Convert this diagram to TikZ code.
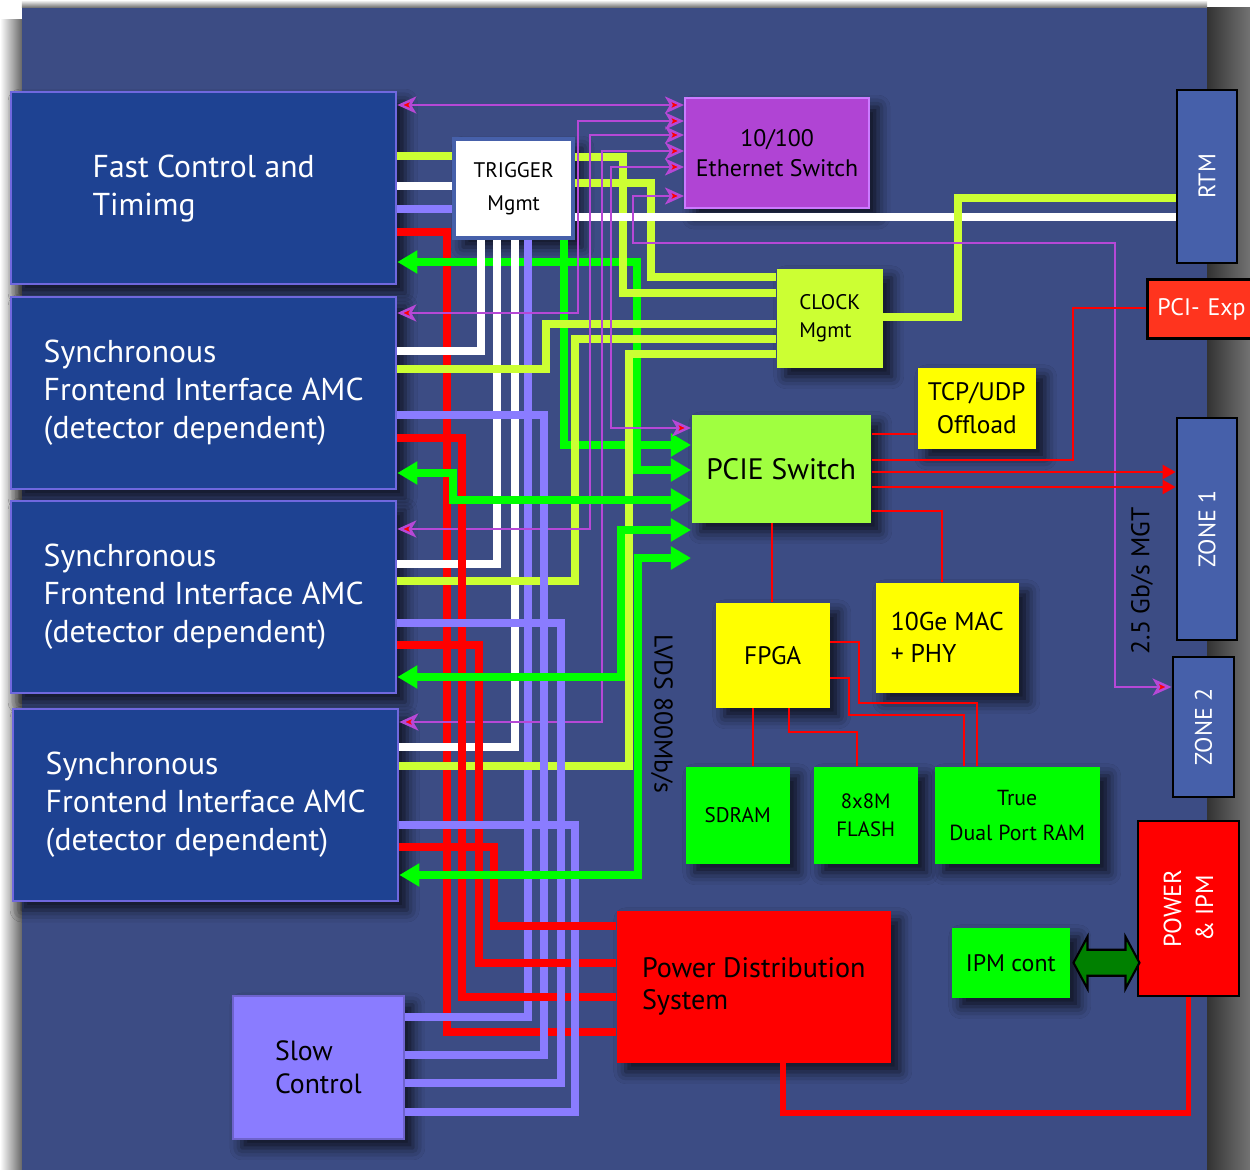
\documentclass[tikz,border=0pt]{standalone}
\usepackage{fontspec}
\setmainfont{PT Sans}
\usetikzlibrary{positioning, arrows.meta, shadows.blur, calc}
\definecolor{cboard}{RGB}{60,76,132}
\definecolor{camc}{RGB}{30,66,146}
\definecolor{camcb}{RGB}{112,104,222}
\definecolor{clav}{RGB}{138,124,255}
\definecolor{cylw}{RGB}{204,255,51}
\definecolor{cgrn}{RGB}{0,255,0}
\definecolor{cpcie}{RGB}{160,255,64}
\definecolor{cyel}{RGB}{255,255,0}
\definecolor{ceth}{RGB}{176,68,212}
\definecolor{cethb}{RGB}{204,122,255}
\definecolor{cmag}{RGB}{182,72,214}
\definecolor{cred}{RGB}{255,0,0}
\definecolor{crtm}{RGB}{70,96,170}
\definecolor{cpex}{RGB}{255,52,30}
\definecolor{cdkg}{RGB}{0,128,0}
\newcommand{\fsz}[2]{\fontsize{#1}{#2}\selectfont}

\begin{document}
\begin{tikzpicture}[x=0.01cm, y=-0.01cm, line join=miter,
    gtip/.tip={Triangle[length=0.2cm, width=0.22cm]},
    mtip/.tip={Stealth[length=0.19cm, width=0.17cm, inset=0.05cm, fill=red, line width=0.7pt]},
    rtip/.tip={Triangle[length=0.13cm, width=0.14cm]},
    shd/.style={blur shadow={shadow xshift=0.09cm, shadow yshift=-0.09cm, shadow blur radius=0.12cm, shadow opacity=75}},
    blk/.style={anchor=north west, inner sep=0pt, align=center, text=black, shd},
    amc/.style={blk, fill=camc, draw=camcb, line width=0.6pt, text=white, align=left,
        minimum width=3.85cm, minimum height=1.92cm, font=\fsz{9}{10.8}},
    conn/.style={anchor=center, draw=black, line width=0.8pt, rotate=90, text=white,
        inner sep=0pt, font=\fsz{6.8}{8}},
    ylw/.style={cylw, line width=2pt},
    wht/.style={white, line width=2pt},
    lav/.style={clav, line width=2pt},
    rd/.style={cred, line width=2pt},
    grn/.style={cgrn, line width=2pt, -gtip},
    grn2/.style={cgrn, line width=2pt, gtip-gtip},
    mag2/.style={cmag, line width=0.7pt, mtip-mtip},
    thr/.style={cred, line width=0.7pt},
    thra/.style={thr, -rtip}]

  \useasboundingbox (0,0) rectangle (1250,1170);

  % board
  \fill[white] (0,0) rectangle (1250,1170);
  \shade[left color=white, right color=black!60] (0,20) rectangle (22,1170);
  \shade[top color=white, bottom color=black!60] (22,0) rectangle (1207,8);
  \shade[left color=black!80, right color=black!55] (1207,8) rectangle (1250,1170);
  \fill[cboard] (22,8) rectangle (1207,1170);

  % AMC side
  \node[amc] (FCT)  at (10,91)  {Fast Control and\\Timimg};
  \node[amc] (SFIa) at (10,296) {Synchronous\\Frontend Interface AMC\\(detector dependent)};
  \node[amc] (SFIb) at (10,500) {Synchronous\\Frontend Interface AMC\\(detector dependent)};
  \node[amc] (SFIc) at (12,708) {Synchronous\\Frontend Interface AMC\\(detector dependent)};
  \node[blk, fill=clav, draw=clav!80!black, line width=0.5pt, align=left, minimum width=1.71cm,
        minimum height=1.43cm, font=\fsz{7.9}{9.4}] (SC) at (232,995) {Slow\\Control};

  % management blocks
  \node[blk, fill=white, draw=crtm, line width=1.2pt, minimum width=1.19cm, minimum height=0.99cm,
        font=\fsz{6}{9.4}] (TRG) at (452,137) {TRIGGER\\Mgmt};
  \node[blk, fill=ceth, draw=cethb, line width=0.6pt, minimum width=1.84cm, minimum height=1.1cm,
        font=\fsz{6.8}{8.5}] (ETH) at (684,97) {10/100\\Ethernet Switch};
  \node[blk, fill=cylw, align=left, minimum width=1.06cm, minimum height=0.99cm,
        font=\fsz{6}{8.2}] (CLK) at (776,268) {CLOCK\\Mgmt};
  \node[blk, fill=cyel, minimum width=1.18cm, minimum height=0.81cm,
        font=\fsz{7.2}{9.4}] (TCP) at (917,367) {TCP/UDP\\Offload};
  \node[blk, fill=cpcie, minimum width=1.79cm, minimum height=1.08cm,
        font=\fsz{8.4}{10}] (PCIE) at (691,414) {PCIE Switch};
  \node[blk, fill=cyel, minimum width=1.14cm, minimum height=1.05cm,
        font=\fsz{7.2}{9}] (FPGA) at (715,602) {FPGA};
  \node[blk, fill=cyel, align=left, minimum width=1.43cm, minimum height=1.1cm,
        font=\fsz{7.3}{9.1}] (MAC) at (875,582) {10Ge MAC\\+ PHY};
  \node[blk, fill=cgrn, minimum width=1.04cm, minimum height=0.97cm,
        font=\fsz{6}{7.7}] (SDRAM) at (685,766) {SDRAM};
  \node[blk, fill=cgrn, minimum width=1.04cm, minimum height=0.97cm,
        font=\fsz{5.9}{7.7}] (FLASH) at (813,766) {8x8M\\FLASH};
  \node[blk, fill=cgrn, minimum width=1.65cm, minimum height=0.97cm,
        font=\fsz{6.2}{9.9}] (TDPR) at (934,766) {True\\Dual Port RAM};
  \node[blk, fill=cred, align=left, minimum width=2.74cm, minimum height=1.52cm,
        font=\fsz{8}{9.1}] (PDS) at (616,910) {Power Distribution\\System};
  \node[blk, fill=cgrn, minimum width=1.18cm, minimum height=0.7cm,
        font=\fsz{6.8}{8}] (IPM) at (951,927) {IPM cont};

  % backplane connectors
  \node[conn, fill=crtm, minimum width=1.73cm, minimum height=0.6cm] (RTM) at (1207,176.5) {RTM};
  \node[conn, fill=crtm, minimum width=2.22cm, minimum height=0.6cm] (ZONEa) at (1207,529) {ZONE 1};
  \node[conn, fill=crtm, minimum width=1.4cm, minimum height=0.61cm] (ZONEb) at (1203.5,727) {ZONE 2};
  \node[conn, fill=cred, align=center, minimum width=1.75cm, minimum height=1.01cm,
        font=\fsz{7}{9.1}] (PWR) at (1188.5,908.5) {POWER\\\& IPM};
  \node[anchor=north west, draw=black, line width=0.8pt, fill=cpex, text=white, align=left,
        inner xsep=0.1cm, inner ysep=0pt, text width=1.1cm, minimum height=0.59cm,
        font=\fsz{6.8}{8}] (PEX) at (1146,278) {PCI- Exp};

  % link labels
  \node[rotate=90, font=\fsz{7.3}{8}] (MGT) at (1142,581) {2.5 Gb/s MGT};
  \node[rotate=-90, font=\fsz{7.3}{8}] (LVDS) at (662,714) {LVDS 800Mb/s};

  % fast control
  \draw[mag2] (FCT.east |- 0,105) -- (ETH.west |- 0,105);
  \draw[ylw] (FCT.east |- 0,156) -- (TRG.west |- 0,156);
  \draw[wht] (FCT.east |- 0,186) -- (TRG.west |- 0,186);
  \draw[lav] (FCT.east |- 0,209) -- (TRG.west |- 0,209);
  \draw[rd] (FCT.east |- 0,232) -- (447,232) -- (447,1032) -- (PDS.west |- 0,1032);
  \draw[grn2] (FCT.east |- 0,262) -- (637,262) -- (637,470) -- (PCIE.west |- 0,470);

  % trigger
  \draw[wht] (TRG.south -| 481,0) -- (481,351) -- (SFIa.east |- 0,351);
  \draw[wht] (TRG.south -| 497,0) -- (497,564) -- (SFIb.east |- 0,564);
  \draw[wht] (TRG.south -| 515,0) -- (515,747) -- (SFIc.east |- 0,747);
  \draw[lav] (TRG.south -| 528,0) -- (528,1017) -- (SC.east |- 0,1017);
  \draw[grn] (TRG.south -| 564,0) -- (564,445) -- (PCIE.west |- 0,445);
  \draw[ylw] (TRG.east |- 0,157) -- (623,157) -- (623,293) -- (CLK.west |- 0,293);
  \draw[ylw] (TRG.east |- 0,183) -- (651,183) -- (651,277) -- (CLK.west |- 0,277);
  \draw[wht] (TRG.east |- 0,217) -- (RTM.north |- 0,217);

  % clock
  \draw[ylw] (CLK.west |- 0,324) -- (546,324) -- (546,369) -- (SFIa.east |- 0,369);
  \draw[ylw] (CLK.west |- 0,339) -- (575,339) -- (575,581) -- (SFIb.east |- 0,581);
  \draw[ylw] (CLK.west |- 0,354) -- (629,354) -- (629,766) -- (SFIc.east |- 0,766);
  \draw[ylw] (CLK.east |- 0,317) -- (958,317) -- (958,198) -- (RTM.north |- 0,198);

  % ethernet
  \draw[mag2] (ETH.west |- 0,121) -- (578,121) -- (578,313) -- (SFIa.east |- 0,313);
  \draw[mag2] (ETH.west |- 0,135) -- (590,135) -- (590,529) -- (SFIb.east |- 0,529);
  \draw[mag2] (ETH.west |- 0,151) -- (602,151) -- (602,722) -- (SFIc.east |- 0,722);
  \draw[mag2] (ETH.west |- 0,167) -- (611,167) -- (611,428) -- (PCIE.west |- 0,428);
  \draw[mag2] (ETH.west |- 0,196) -- (633,196) -- (633,243) -- (1115,243) -- (1115,687) -- (ZONEb.north |- 0,687);

  % frontends
  \draw[lav] (SFIa.east |- 0,415) -- (544,415) -- (544,1055) -- (SC.east |- 0,1055);
  \draw[rd] (SFIa.east |- 0,438) -- (462,438) -- (462,997) -- (PDS.west |- 0,997);
  \draw[grn2] (SFIa.east |- 0,473) -- (453,473) -- (453,500) -- (PCIE.west |- 0,500);
  \draw[lav] (SFIb.east |- 0,623) -- (561,623) -- (561,1083) -- (SC.east |- 0,1083);
  \draw[rd] (SFIb.east |- 0,645) -- (479,645) -- (479,963) -- (PDS.west |- 0,963);
  \draw[grn2] (SFIb.east |- 0,677) -- (621,677) -- (621,530) -- (PCIE.west |- 0,530);
  \draw[lav] (SFIc.east |- 0,825) -- (575,825) -- (575,1112) -- (SC.east |- 0,1112);
  \draw[rd] (SFIc.east |- 0,847) -- (494,847) -- (494,926) -- (PDS.west |- 0,926);
  \draw[grn2] (SFIc.east |- 0,875) -- (638,875) -- (638,558) -- (PCIE.west |- 0,558);

  % pcie and fpga
  \draw[thr] (PCIE.east |- 0,434) -- (TCP.west |- 0,434);
  \draw[thr] (PCIE.east |- 0,460) -- (1073,460) -- (1073,308) -- (PEX.west |- 0,308);
  \draw[thra] (PCIE.east |- 0,472) -- (ZONEa.north |- 0,472);
  \draw[thra] (PCIE.east |- 0,487) -- (ZONEa.north |- 0,487);
  \draw[thr] (PCIE.east |- 0,511) -- (942,511) -- (MAC.north -| 942,0);
  \draw[thr] (PCIE.south -| 772,0) -- (FPGA.north -| 772,0);
  \draw[thr] (FPGA.east |- 0,642) -- (859,642) -- (859,703) -- (977,703) -- (TDPR.north -| 977,0);
  \draw[thr] (FPGA.east |- 0,678) -- (849,678) -- (849,715) -- (964,715) -- (TDPR.north -| 964,0);
  \draw[thr] (FPGA.south -| 753,0) -- (SDRAM.north -| 753,0);
  \draw[thr] (FPGA.south -| 789,0) -- (789,732) -- (857,732) -- (FLASH.north -| 857,0);

  % power
  \draw[rd, line width=1.7pt] (PDS.south -| 783,0) -- (783,1113) -- (PWR.west |- 0,1113) -- (PWR.west);
  \draw[fill=cdkg, draw=black, line width=0.6pt] (IPM.east) ++(3,0) -- ++(14,-26) -- ++(0,13)
    -- ++(38,0) -- ++(0,-13) -- ++(14,26) -- ++(-14,26) -- ++(0,-13) -- ++(-38,0) -- ++(0,13) -- cycle;
\end{tikzpicture}
\end{document}
